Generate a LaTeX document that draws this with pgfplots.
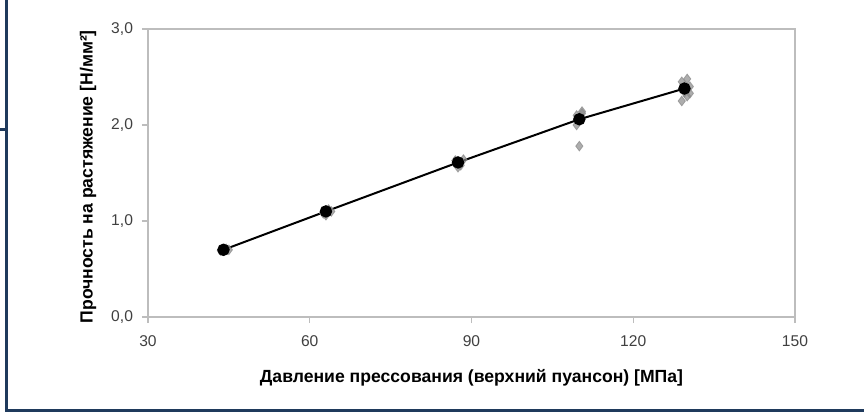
\documentclass[border=0pt]{standalone}
\usepackage{pgfplots}
\pgfplotsset{compat=1.18}
\usepackage{fontspec}
\setmainfont{Liberation Sans}
\definecolor{frame}{HTML}{1F3A5C}
\definecolor{axgray}{HTML}{BDBDBD}
\definecolor{ptgray}{HTML}{8A8A8A}
\begin{document}
\begin{tikzpicture}
\path[use as bounding box] (0,0) rectangle (432pt,207pt);
\draw[frame, line width=1.5pt] (3pt,207pt) -- (3pt,2pt) -- (432pt,2pt);
\draw[frame, line width=1.5pt] (0pt,142.5pt) -- (3pt,142.5pt);
\begin{axis}[
  at={(74pt,48.5pt)}, anchor=south west,
  scale only axis, width=323.5pt, height=144pt,
  xmin=30, xmax=150, ymin=0, ymax=3,
  xtick={30,60,90,120,150}, ytick={0,1,2,3},
  axis line style={axgray, line width=0.8pt},
  tick style={axgray, line width=0.6pt},
  major tick length=3pt,
  tick align=outside,
  xtick pos=bottom, ytick pos=left,
  yticklabel style={/pgf/number format/fixed, /pgf/number format/fixed zerofill, /pgf/number format/precision=1, /pgf/number format/use comma, xshift=-1pt},
  /pgf/number format/assume math mode=true,
  ticklabel style={font=\fontsize{7.8}{9}\selectfont, text=black!75},
  xticklabel style={yshift=-3pt},
  label style={font=\fontsize{8.8}{10}\selectfont\bfseries},
  xlabel={Давление прессования (верхний пуансон) [МПа]},
  ylabel={Прочность на растяжение [Н/мм²]},
  xlabel style={at={(axis description cs:0.5,-0.2118)}, anchor=center},
  ylabel style={at={(axis description cs:-0.0928,0.487)}, anchor=center},
]
\addplot[only marks, mark=diamond*, mark size=2.4pt, ptgray, opacity=0.7] coordinates {
(43.5,0.69) (44.5,0.71) (44,0.70) (45,0.70)
(62.5,1.08) (63.5,1.12) (63,1.06) (64,1.10)
(87,1.63) (88,1.58) (87.5,1.56) (88.5,1.64)
(109.5,2.00) (110,2.05) (110.5,2.12) (109.5,2.10) (110,1.78) (110.5,2.14)
(129,2.25) (130,2.30) (129.5,2.34) (130.5,2.40) (129,2.45) (130,2.48) (130.5,2.33)
};
\addplot[black, line width=1pt, mark=*, mark size=2.6pt] coordinates {
(44,0.70) (63,1.10) (87.5,1.61) (110,2.06) (129.5,2.38)
};
\end{axis}
\end{tikzpicture}
\end{document}
